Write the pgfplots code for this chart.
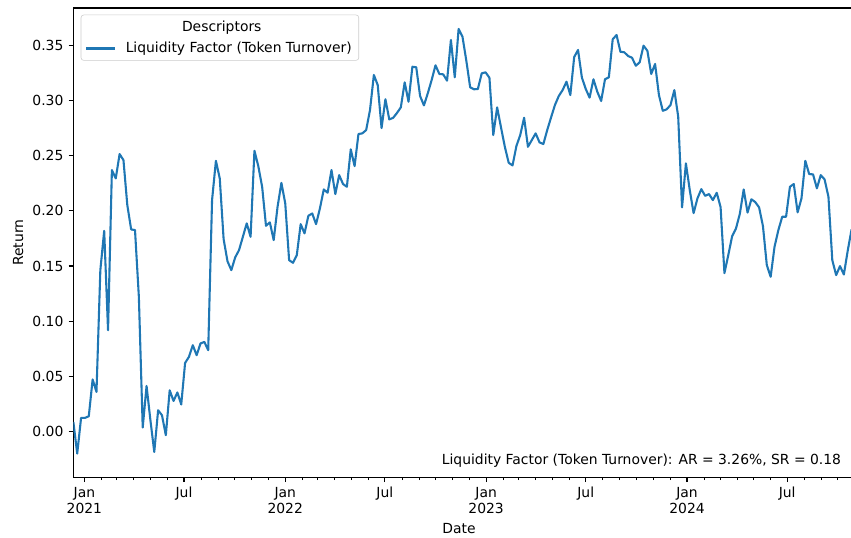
\documentclass[border=0pt]{standalone}
\usepackage{pgfplots}
\pgfplotsset{compat=1.18}
\usepackage{pgfplotstable}
\usepackage{fontspec}
\setmainfont{DejaVu Sans}
\definecolor{c0}{RGB}{31,119,180}
\definecolor{legedge}{RGB}{204,204,204}
\pgfplotstableread{
day ret
-20 0.0084
-13 -0.0203
-6 0.0121
1 0.0121
8 0.0136
15 0.0470
22 0.0357
29 0.1462
36 0.1819
43 0.0917
50 0.2371
57 0.2295
64 0.2516
71 0.2462
78 0.2053
85 0.1832
92 0.1826
99 0.1220
106 0.0034
113 0.0411
120 0.0100
127 -0.0188
134 0.0191
141 0.0145
148 -0.0036
155 0.0372
162 0.0275
169 0.0352
176 0.0243
183 0.0620
190 0.0675
197 0.0781
204 0.0690
211 0.0797
218 0.0811
225 0.0736
232 0.2098
239 0.2455
246 0.2295
253 0.1744
260 0.1544
267 0.1462
274 0.1578
281 0.1644
288 0.1765
295 0.1887
302 0.1765
309 0.2546
316 0.2407
323 0.2219
330 0.1865
337 0.1896
344 0.1735
351 0.2037
358 0.2255
365 0.2068
372 0.1553
379 0.1529
386 0.1599
393 0.1880
400 0.1796
407 0.1956
414 0.1977
421 0.1880
428 0.2023
435 0.2195
442 0.2165
449 0.2371
456 0.2153
463 0.2325
470 0.2244
477 0.2219
484 0.2559
491 0.2407
498 0.2698
505 0.2704
512 0.2734
519 0.2916
526 0.3234
533 0.3143
540 0.2752
547 0.3014
554 0.2831
561 0.2845
568 0.2889
575 0.2940
582 0.3167
589 0.2991
596 0.3309
603 0.3304
610 0.3043
617 0.2958
624 0.3068
631 0.3188
638 0.3322
645 0.3243
652 0.3240
659 0.3182
666 0.3552
673 0.3213
680 0.3652
687 0.3582
694 0.3364
701 0.3122
708 0.3104
715 0.3107
722 0.3249
729 0.3258
736 0.3209
743 0.2689
750 0.2940
757 0.2759
764 0.2582
771 0.2437
778 0.2413
785 0.2589
792 0.2689
799 0.2846
806 0.2582
813 0.2643
820 0.2704
827 0.2622
834 0.2607
841 0.2734
848 0.2849
855 0.2961
862 0.3043
869 0.3097
876 0.3173
883 0.3052
890 0.3397
897 0.3461
904 0.3211
911 0.3107
918 0.3028
925 0.3195
932 0.3082
939 0.2998
946 0.3195
953 0.3213
960 0.3558
967 0.3597
974 0.3445
981 0.3440
988 0.3406
995 0.3391
1002 0.3318
1009 0.3349
1016 0.3500
1023 0.3454
1030 0.3243
1037 0.3334
1044 0.3052
1051 0.2909
1058 0.2922
1065 0.2961
1072 0.3097
1079 0.2855
1086 0.2032
1093 0.2432
1100 0.2189
1107 0.1980
1114 0.2114
1121 0.2198
1128 0.2137
1135 0.2153
1142 0.2098
1149 0.2165
1156 0.2035
1163 0.1435
1170 0.1599
1177 0.1771
1184 0.1841
1191 0.1974
1198 0.2195
1205 0.1985
1212 0.2106
1219 0.2080
1226 0.2032
1233 0.1862
1240 0.1508
1247 0.1402
1254 0.1674
1261 0.1826
1268 0.1947
1275 0.1947
1282 0.2219
1289 0.2244
1296 0.1987
1303 0.2114
1310 0.2455
1317 0.2334
1324 0.2332
1331 0.2205
1338 0.2325
1345 0.2286
1352 0.2128
1359 0.1553
1366 0.1417
1373 0.1499
1380 0.1423
1387 0.1638
1394 0.1832
}\liqdata
\begin{document}
\begin{tikzpicture}
\begin{axis}[
  at={(0,0)}, anchor=south west,
  scale only axis,
  width=560pt, height=337.7pt,
  xmin=-20, xmax=1394,
  ymin=-0.0418, ymax=0.3842,
  /pgf/number format/assume math mode=true,
  font=\fontsize{10}{12}\selectfont,
  axis line style={line width=0.8pt, black},
  tick align=outside,
  xtick pos=bottom, ytick pos=left,
  major tick length=3.5pt, minor tick length=2pt,
  every tick/.style={black, line width=0.8pt},
  every minor tick/.style={black, line width=0.6pt},
  xtick={0,181,365,546,730,911,1095,1277},
  xticklabels={{Jan\\2021},Jul,{Jan\\2022},Jul,{Jan\\2023},Jul,{Jan\\2024},Jul},
  minor xtick={31,59,90,120,151,212,243,273,304,334,396,424,455,485,516,577,608,638,669,699,761,789,820,850,881,942,973,1003,1034,1064,1126,1155,1186,1216,1247,1308,1339,1369},
  xticklabel style={align=center, font=\fontsize{10}{11.3}\selectfont, inner sep=0pt, anchor=north, yshift=-3.5pt},
  ytick={0,0.05,0.1,0.15,0.2,0.25,0.3,0.35},
  yticklabel style={/pgf/number format/.cd, fixed, fixed zerofill, precision=2, /tikz/.cd, inner sep=0pt, anchor=east, xshift=-3.5pt},
  xlabel={Date},
  xlabel style={at={(axis description cs:0.4955,-0.1087)}, anchor=center, inner sep=0pt},
  ylabel={Return},
  ylabel style={at={(axis description cs:-0.0711,0.5)}, anchor=center, inner sep=0pt, rotate=0},
  legend cell align=left,
  legend image code/.code={\draw[#1] (0pt,0pt) -- (20.9pt,0pt);},
  legend style={at={(axis description cs:0,1)}, anchor=north west, xshift=5.3pt, yshift=-4.8pt,
    draw=legedge, rounded corners=2pt, fill=white, fill opacity=0.8, text opacity=1,
    font=\fontsize{10}{12}\selectfont, inner xsep=3pt, inner ysep=2pt, row sep=2.5pt, column sep=4.8pt},
]
\addlegendimage{empty legend}
\addlegendentry{\hspace*{40.5pt}Descriptors}
\addplot[c0, line width=1.5pt, line join=round] table[x=day, y=ret] {\liqdata};
\addlegendentry{Liquidity Factor (Token Turnover)\rule[-4.5pt]{0pt}{1pt}}
\node[anchor=base east, inner sep=0pt, font=\fontsize{10}{12}\selectfont] at (axis description cs:0.9868,0.0271) {Liquidity Factor (Token Turnover): AR = 3.26\%, SR = 0.18};
\end{axis}
\pgfresetboundingbox
\path[use as bounding box] (-52.8pt,-43.2pt) rectangle (559.6pt,343.46pt);
\end{tikzpicture}
\end{document}
